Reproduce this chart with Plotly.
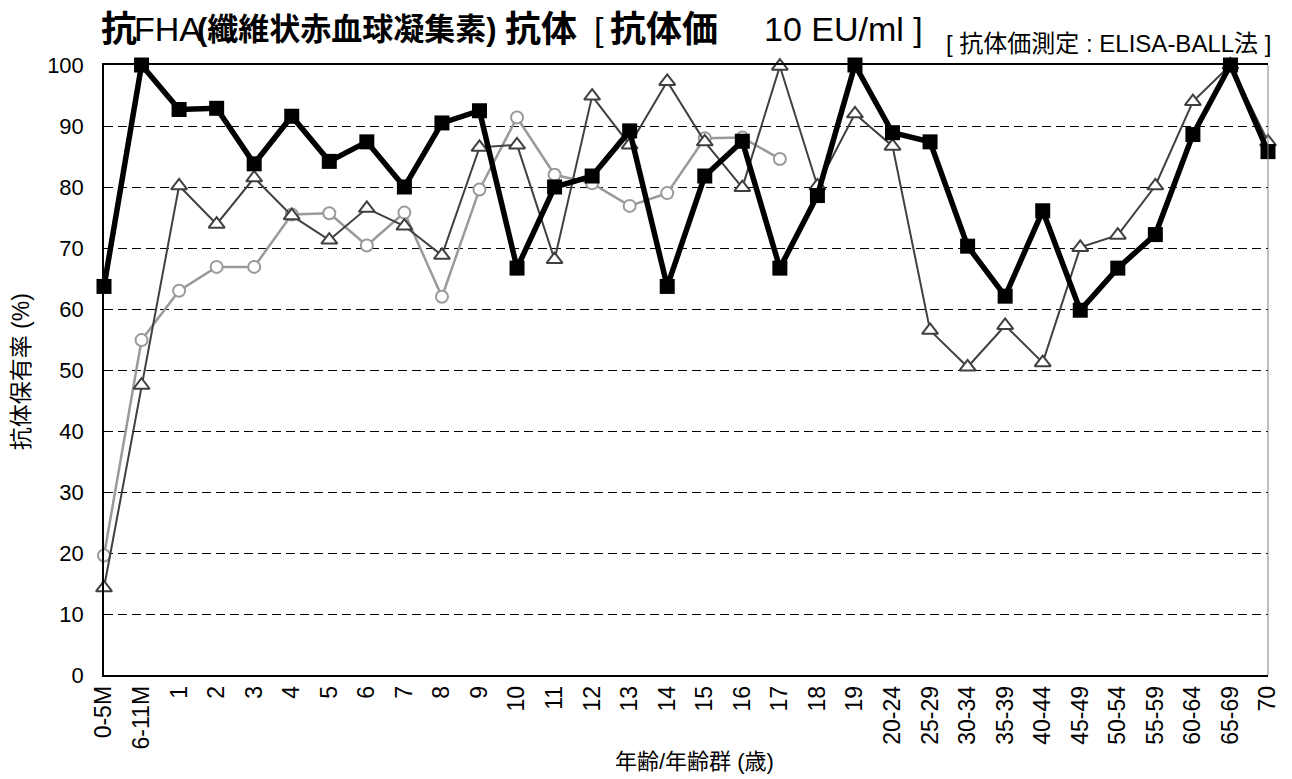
import plotly.graph_objects as go

categories = ["0-5M", "6-11M", "1", "2", "3", "4", "5", "6", "7", "8", "9", "10",
              "11", "12", "13", "14", "15", "16", "17", "18", "19",
              "20-24", "25-29", "30-34", "35-39", "40-44", "45-49", "50-54",
              "55-59", "60-64", "65-69", "70"]

series_square = [63.7, 100, 92.7, 92.9, 83.8, 91.6, 84.2, 87.4, 80.0, 90.5, 92.5,
                 66.7, 80.0, 81.8, 89.2, 63.7, 81.8, 87.5, 66.7, 78.6, 100,
                 88.9, 87.4, 70.3, 62.1, 76.1, 59.8, 66.7, 72.2, 88.6, 100, 85.8]

series_triangle = [14.3, 47.5, 80.2, 73.9, 81.5, 75.3, 71.3, 76.5, 73.6, 68.8, 86.5,
                   86.9, 68.1, 94.9, 86.9, 97.3, 87.4, 79.9, 99.8, 80.2, 92.0,
                   86.7, 56.5, 50.5, 57.3, 51.2, 70.1, 72.1, 80.2, 94.0, 100, 87.4]

series_circle = [19.6, 54.9, 63.0, 66.9, 66.9, 75.5, 75.7, 70.4, 75.8, 62.0, 79.6,
                 91.4, 82.0, 80.6, 76.9, 79.0, 88.0, 88.1, 84.6,
                 None, None, None, None, None, None, None, None, None, None, None, None, None]

y_ticks = [0, 10, 20, 30, 40, 50, 60, 70, 80, 90, 100]

x_idx = list(range(len(categories)))

FONT = "Liberation Sans, Arial, Noto Sans CJK JP, sans-serif"
CJK = "Liberation Sans, Noto Sans CJK JP, sans-serif"

fig = go.Figure()

fig.add_trace(go.Scatter(
    x=x_idx, y=series_circle, mode="lines+markers", cliponaxis=False,
    line=dict(color="#9a9a9a", width=2.5),
    marker=dict(symbol="circle", size=12, color="white",
                line=dict(color="#9a9a9a", width=2)),
    showlegend=False))

fig.add_trace(go.Scatter(
    x=x_idx, y=series_triangle, mode="lines+markers", cliponaxis=False,
    line=dict(color="#404040", width=2),
    marker=dict(symbol="triangle-up", size=14, color="white",
                line=dict(color="#404040", width=2)),
    showlegend=False))

fig.add_trace(go.Scatter(
    x=x_idx, y=series_square, mode="lines+markers", cliponaxis=False,
    line=dict(color="black", width=5.5),
    marker=dict(symbol="square", size=15, color="black",
                line=dict(color="black", width=0)),
    showlegend=False))

W, H = 1292, 779
L, R, T, B = 104, 20, 65, 104
pw, ph = W - L - R, H - T - B


def px(x):
    return (x - L) / pw


def py(y):
    return (H - B - y) / ph


fig.update_layout(
    width=W, height=H,
    margin=dict(l=L, r=R, t=T, b=B),
    paper_bgcolor="white", plot_bgcolor="white",
    font=dict(family=FONT, color="black"),
    xaxis=dict(range=[0, len(categories) - 1], tickvals=x_idx, ticktext=categories,
               tickangle=-90, tickfont=dict(size=23, family=FONT),
               showline=True, linecolor="black", linewidth=1.5, mirror=True,
               showgrid=False, zeroline=False, ticks=""),
    yaxis=dict(range=[0, 100], tickvals=y_ticks, tickfont=dict(size=22, family=FONT),
               showline=True, linecolor="black", linewidth=1.5,
               showgrid=True, gridcolor="black", gridwidth=1, griddash="9px,5px",
               zeroline=False, ticks="", ticklabelstandoff=14),
)

# right border
fig.add_shape(type="line", xref="paper", yref="paper", x0=1, x1=1, y0=0, y1=1,
              line=dict(color="#808080", width=1))

ann = [
    ("<b>抗</b>", 99, 36),
    ("FHA", 132, 34),
    ("<b>(纖維状赤血球凝集素)</b>", 195, 31),
    ("<b>抗体</b>", 504, 36),
    ("[", 594, 34),
    ("<b>抗体価</b>", 610, 36),
    ("10 EU/ml ]", 764, 34),
]
for text, x, size in ann:
    fig.add_annotation(text=text, x=px(x), y=py(29), xref="paper", yref="paper",
                       xanchor="left", yanchor="middle", showarrow=False,
                       font=dict(size=size, family=CJK, color="black"))

fig.add_annotation(text="[ 抗体価測定 : ELISA-BALL法 ]", x=px(947), y=py(44),
                   xref="paper", yref="paper", xanchor="left", yanchor="middle",
                   showarrow=False, font=dict(size=24, family=CJK, color="black"))

fig.add_annotation(text="抗体保有率 (%)", x=px(21), y=py(372), xref="paper", yref="paper",
                   xanchor="center", yanchor="middle", textangle=-90, showarrow=False,
                   font=dict(size=23, family=CJK, color="black"))

fig.add_annotation(text="年齢/年齢群 (歳)", x=px(697), y=py(761), xref="paper", yref="paper",
                   xanchor="center", yanchor="middle", showarrow=False,
                   font=dict(size=22, family=CJK, color="black"))

fig.write_html("out.html", config={"displayModeBar": False},
               post_script="document.body.style.margin='0';")
